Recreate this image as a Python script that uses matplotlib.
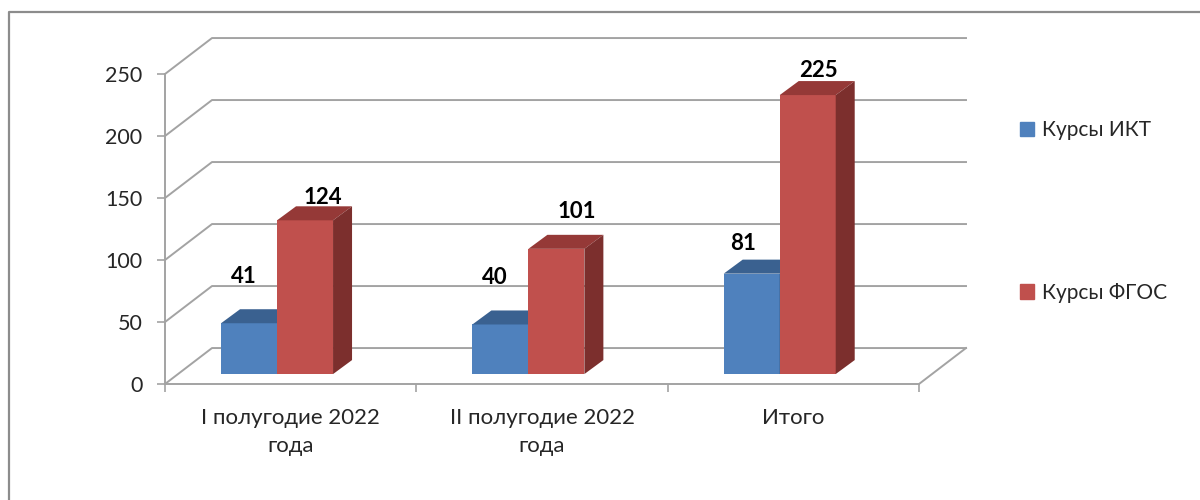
import matplotlib.pyplot as plt
from matplotlib.lines import Line2D
from matplotlib.patches import Patch, Polygon

plt.rcParams["font.family"] = ["Lato", "DejaVu Sans"]

categories = ["I полугодие 2022\nгода", "II полугодие 2022\nгода", "Итого"]
ikt_courses = [41, 40, 81]
fgos_courses = [124, 101, 225]
y_ticks = [0, 50, 100, 150, 200, 250]

# hand placed labels in the original, offsets from the bar top-centre in px
ikt_label_offsets = [(-5, 47), (-6, 47), (-9, 30)]
fgos_label_offsets = [(18, 23), (20, 37), (11, 25)]

WALL_DX, WALL_DY = 0.187, 29
BAR_DX, BAR_DY = 0.0756, 11.3
BAR_BASE = 8
BAR_LEFT = 0.223
BAR_WIDTH = 0.2228
GRID = "#a3a3a3"
TEXT = "#262626"


def draw_bar(ax, x, value, face, top, side, zorder):
    y = value + BAR_BASE
    ax.bar(x, value, BAR_WIDTH, bottom=BAR_BASE, align="edge", color=face, zorder=zorder)
    ax.add_patch(Polygon(
        [(x, y), (x + BAR_WIDTH, y), (x + BAR_WIDTH + BAR_DX, y + BAR_DY), (x + BAR_DX, y + BAR_DY)],
        facecolor=top, edgecolor="none", clip_on=False, zorder=zorder,
    ))
    ax.add_patch(Polygon(
        [(x + BAR_WIDTH, BAR_BASE), (x + BAR_WIDTH + BAR_DX, BAR_BASE + BAR_DY),
         (x + BAR_WIDTH + BAR_DX, y + BAR_DY), (x + BAR_WIDTH, y)],
        facecolor=side, edgecolor="none", clip_on=False, zorder=zorder,
    ))


def bar_label(ax, x, value, text_offset):
    ax.annotate(
        str(value),
        (x + BAR_WIDTH / 2, value + BAR_BASE),
        xytext=(text_offset[0] * 0.72, text_offset[1] * 0.72),
        textcoords="offset points",
        ha="center",
        va="center",
        fontsize=16,
        fontweight="bold",
        color="black",
        zorder=10,
    )


fig = plt.figure(figsize=(12, 5), dpi=100)
ax = fig.add_axes([165 / 1200, 1 - 384 / 500, (919 - 165) / 1200, 310 / 500])
ax.set_xlim(0, 3)
ax.set_ylim(0, 250)

# back wall and left wall
for tick in y_ticks:
    ax.plot([0, WALL_DX, 3 + WALL_DX], [tick, tick + WALL_DY, tick + WALL_DY],
            color=GRID, lw=1.4, clip_on=False, zorder=1)
ax.plot([3, 3 + WALL_DX], [0, WALL_DY], color=GRID, lw=1.4, clip_on=False, zorder=1)

for i in range(len(categories)):
    left = i + BAR_LEFT
    draw_bar(ax, left, ikt_courses[i], "#4f81bd", "#3a6190", "#2f5077", 3)
    draw_bar(ax, left + BAR_WIDTH, fgos_courses[i], "#c0504d", "#953937", "#7c2f2d", 4)
    bar_label(ax, left, ikt_courses[i], ikt_label_offsets[i])
    bar_label(ax, left + BAR_WIDTH, fgos_courses[i], fgos_label_offsets[i])

for name in ["top", "right"]:
    ax.spines[name].set_visible(False)
for name in ["left", "bottom"]:
    ax.spines[name].set_color(GRID)
    ax.spines[name].set_linewidth(1.4)

ax.set_yticks(y_ticks)
ax.tick_params(axis="y", length=5.8, width=1.2, color=GRID, labelcolor=TEXT, labelsize=15.5, pad=10.5)
ax.set_xticks([0, 1, 2, 3])
ax.set_xticklabels([])
ax.tick_params(axis="x", which="major", length=5.8, width=1.2, color=GRID)
ax.set_xticks([0.5, 1.5, 2.5], minor=True)
ax.set_xticklabels(categories, minor=True, fontsize=16, color=TEXT, linespacing=1.5)
ax.tick_params(axis="x", which="minor", length=0, pad=17.5)

fig.legend(
    handles=[Patch(color="#4f81bd", label="Курсы ИКТ"), Patch(color="#c0504d", label="Курсы ФГОС")],
    loc="upper left",
    bbox_to_anchor=(1020 / 1200, 1 - 120 / 500),
    frameon=False,
    fontsize=15,
    handlelength=0.68,
    handleheight=0.68,
    handletextpad=0.38,
    labelspacing=6.85,
    labelcolor=TEXT,
    borderpad=0,
    borderaxespad=0,
)

# frame of the pasted picture, only top and left fall inside the crop
fig.add_artist(Line2D([9 / 1200, 9 / 1200, 1], [0, 1 - 12 / 500, 1 - 12 / 500], color="#8c8c8c", lw=1.6))

fig.savefig("out.png", dpi=100)
